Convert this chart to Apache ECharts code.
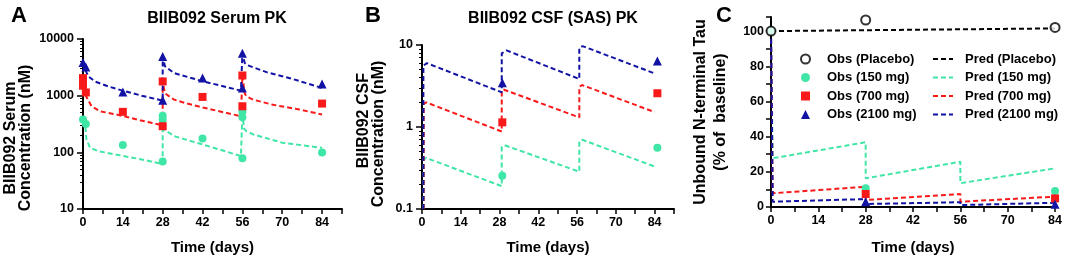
<!DOCTYPE html>
<html><head><meta charset="utf-8">
<script src="https://cdn.jsdelivr.net/npm/echarts@6/dist/echarts.min.js"></script>
<style>html,body{margin:0;padding:0;background:#fff}#c{width:1065px;height:261px}</style>
</head><body><div id="c"></div><script>
// ---------- Panel A: BIIB092 serum (nM), [day, value] ----------
const serumObs150  = [[0,380],[1,316],[14,135],[28,69],[28,380],[28,440],[42,176],[56,78.5],[56,417],[56,518],[84,99]];
const serumObs700  = [[0,2040],[0,1750],[0,1500],[1,1140],[14,518],[28,289],[28,1780],[42,950],[56,650],[56,2270],[84,725]];
const serumObs2100 = [[0,3850],[1,3200],[14,1160],[28,830],[28,4900],[42,2040],[56,1365],[56,5610],[84,1600]];
const serumPred150  = [[0,380],[0.8,300],[1.2,170],[2.5,120],[5.4,105],[11.2,92],[20.6,75],[28,62],[28,420],[28.6,250],[29.4,237],[32,193],[42,138],[55.5,86],[56,84],[56,500],[56.6,260],[57.4,237],[59.8,207],[70,148],[84,120]];
const serumPred700  = [[0,2000],[0.7,1150],[1,1000],[3,650],[6,530],[11.8,465],[20,369],[28,300],[28,1780],[28.8,1100],[29.4,1040],[32,850],[36,740],[42,620],[55.5,433],[56,430],[56,2270],[56.8,1100],[57.4,970],[59.8,850],[66.8,690],[76,570],[84,465]];
const serumPred2100 = [[0,3850],[0.5,3060],[1.9,2180],[4.2,1780],[8.9,1455],[13.6,1240],[20.6,1000],[28,817],[28,4900],[28.8,3300],[29.4,3060],[32,2500],[42,1800],[55.5,1225],[56,1220],[56,5600],[56.8,3800],[57.4,3500],[64.5,2600],[73.8,1960],[84,1365]];

// ---------- Panel B: BIIB092 CSF (nM) ----------
const csfObs150  = [[29,0.255],[85,0.56]];
const csfObs700  = [[29,1.14],[85,2.58]];
const csfObs2100 = [[29,3.47],[85,6.38]];
const csfPred150  = [[0.5,0.1],[0.5,0.4],[1.5,0.42],[28.8,0.19],[28.8,0.57],[29.8,0.6],[56.8,0.285],[56.8,0.66],[57.8,0.7],[84,0.33]];
const csfPred700  = [[0.6,0.1],[0.6,1.9],[1.5,2.0],[28.8,0.88],[28.8,2.8],[29.6,2.85],[56.8,1.31],[56.8,3.1],[57.8,3.25],[84,1.52]];
const csfPred2100 = [[0.5,0.1],[0.5,5.6],[1.8,6.0],[28.8,2.65],[28.8,7.9],[30.5,8.6],[56.8,3.85],[56.8,9.2],[58,9.7],[84,4.5]];

// ---------- Panel C: unbound N-terminal tau (% of baseline) ----------
const tauObsPlacebo = [[0,100],[28,106.3],[84,102.1]];
const tauObs150  = [[0,100],[28,10.6],[84,9.1]];
const tauObs700  = [[28,7.4],[84,4.9]];
const tauObs2100 = [[28,3.0],[84,1.5]];
const tauPredPlacebo = [[0,100],[84,101.5]];
const tauPred150  = [[0,100],[0.5,27.7],[28,36.8],[28,16.3],[56,25.7],[56,13.5],[84,22.0]];
const tauPred700  = [[0,100],[0.5,7.8],[28,11.5],[28,4.0],[56,7.4],[56,3.0],[84,5.9]];
const tauPred2100 = [[0,100],[0.5,3.0],[28,4.5],[28,1.7],[56,2.7],[56,1.1],[84,2.4]];

const obsNames  = ['Obs (Placebo)','Obs (150 mg)','Obs (700 mg)','Obs (2100 mg)'];
const predNames = ['Pred (Placebo)','Pred (150 mg)','Pred (700 mg)','Pred (2100 mg)'];
const panelTitles = ['BIIB092 Serum PK','BIIB092 CSF (SAS) PK'];
const panelLetters = ['A','B','C'];
const yNames = ['BIIB092 Serum\nConcentration (nM)','      BIIB092 CSF\nConcentration (nM)','Unbound N-terminal Tau\n(% of  baseline)'];
const xName = 'Time (days)';

const COL = {pl:'#000000', g:'#3FE6A6', r:'#F81A1A', b:'#1212A4'};
const FONT = 'Arial, "Liberation Sans", sans-serif';
const lbl = {color:'#000', fontWeight:'bold', fontSize:12.5, fontFamily:FONT};
const nameStyle = {color:'#000', fontWeight:'bold', fontSize:15, fontFamily:FONT};
const fmtNum = v => String(+(+v).toPrecision(6));
const dashIcon = 'path://M0 0H5V2H0Z M8 0H13V2H8Z M16 0H20V2H16Z';

function xAx(grid, max, gap){
  return {type:'value', gridIndex:grid, min:0, max:max, interval:7,
    axisLine:{show:true, onZero:false, lineStyle:{color:'#000', width:2}},
    axisTick:{show:true, length:5, lineStyle:{color:'#000', width:1.5}},
    axisLabel:Object.assign({}, lbl, {margin:7, formatter:v => (Math.round(v) % 14 === 0 && Math.abs(v-Math.round(v))<1e-6 ? String(Math.round(v)) : '')}),
    splitLine:{show:false},
    name:xName, nameLocation:'middle', nameGap:gap, nameTextStyle:Object.assign({}, nameStyle, {fontSize:15})};
}
function yLog(grid, min, max, name, gap, pad, margin){
  return {type:'log', logBase:10, gridIndex:grid, min:min, max:max,
    axisLine:{show:true, onZero:false, lineStyle:{color:'#000', width:2}},
    axisTick:{show:true, length:6, lineStyle:{color:'#000', width:1.5}},
    minorTick:{show:true, splitNumber:9, length:3, lineStyle:{color:'#000', width:1}},
    axisLabel:Object.assign({}, lbl, {margin:margin, formatter:fmtNum}),
    splitLine:{show:false}, minorSplitLine:{show:false},
    name:name, nameLocation:'middle', nameGap:gap, nameRotate:90,
    nameTextStyle:Object.assign({}, nameStyle, {fontSize:16, lineHeight:15, padding:pad})};
}
function sc(name, data, symbol, color, gi, size){
  return {type:'scatter', name:name, xAxisIndex:gi, yAxisIndex:gi, data:data, symbol:symbol,
    symbolSize:size||8, z:4, itemStyle:{color:color, opacity:1}, silent:true};
}
function ln(name, data, color, gi){
  return {type:'line', name:name, xAxisIndex:gi, yAxisIndex:gi, data:data, symbol:'none', z:3,
    lineStyle:{color:color, width:2, type:[5,3]}, itemStyle:{color:color}, silent:true, animation:false};
}

const option = {
  animation:false,
  backgroundColor:'#fff',
  title:[
    {text:panelLetters[0], left:6, top:0, textStyle:{fontSize:22, fontWeight:'bold', fontFamily:FONT, color:'#000'}},
    {text:panelLetters[1], left:360, top:0, textStyle:{fontSize:22, fontWeight:'bold', fontFamily:FONT, color:'#000'}},
    {text:panelLetters[2], left:711, top:0, textStyle:{fontSize:22, fontWeight:'bold', fontFamily:FONT, color:'#000'}},
    {text:panelTitles[0], left:212, top:6, textAlign:'center', textStyle:{fontSize:16, fontWeight:'bold', fontFamily:FONT, color:'#000'}},
    {text:panelTitles[1], left:548, top:6, textAlign:'center', textStyle:{fontSize:16, fontWeight:'bold', fontFamily:FONT, color:'#000'}}
  ],
  grid:[
    {left:83, top:39, width:259, height:170},
    {left:422, top:45, width:252, height:164},
    {left:771, top:17, width:286, height:190}
  ],
  xAxis:[xAx(0, 91, 31), xAx(1, 91, 31), xAx(2, 84, 33)],
  yAxis:[
    yLog(0, 10, 10000, yNames[0], 50, [0,28,0,0], 9),
    yLog(1, 0.1, 10, yNames[1], 36, [0,14,0,0], 9),
    {type:'value', gridIndex:2, min:0, max:108, interval:10,
      axisLine:{show:true, onZero:false, lineStyle:{color:'#000', width:2}},
      axisTick:{show:true, length:5, lineStyle:{color:'#000', width:1.5}},
      axisLabel:Object.assign({}, lbl, {margin:7, formatter:v => (v % 20 === 0 ? String(v) : '')}),
      splitLine:{show:false},
      name:yNames[2], nameLocation:'middle', nameGap:40, nameRotate:90,
      nameTextStyle:Object.assign({}, nameStyle, {fontSize:16, lineHeight:20})}
  ],
  legend:[
    {data:obsNames, orient:'vertical', left:800, top:52, padding:0, itemWidth:9, itemHeight:9, itemGap:4.5, selectedMode:false,
     textStyle:{color:'#000', fontWeight:'bold', fontSize:13, fontFamily:FONT, lineHeight:14, padding:[0,0,0,12]}},
    {data:predNames.map(n => ({name:n, icon:dashIcon})), orient:'vertical', left:933, top:52, padding:0, itemWidth:20, itemHeight:9, itemGap:4.5, selectedMode:false,
     textStyle:{color:'#000', fontWeight:'bold', fontSize:13, fontFamily:FONT, lineHeight:14, padding:[0,0,0,7]}}
  ],
  series:[
    // A
    ln('A Pred (150 mg)', serumPred150, COL.g, 0),
    ln('A Pred (700 mg)', serumPred700, COL.r, 0),
    ln('A Pred (2100 mg)', serumPred2100, COL.b, 0),
    sc('A Obs (150 mg)', serumObs150, 'circle', COL.g, 0, 8),
    sc('A Obs (700 mg)', serumObs700, 'rect', COL.r, 0, 8),
    sc('A Obs (2100 mg)', serumObs2100, 'triangle', COL.b, 0, 9),
    // B
    ln('B Pred (150 mg)', csfPred150, COL.g, 1),
    ln('B Pred (700 mg)', csfPred700, COL.r, 1),
    ln('B Pred (2100 mg)', csfPred2100, COL.b, 1),
    sc('B Obs (150 mg)', csfObs150, 'circle', COL.g, 1, 8),
    sc('B Obs (700 mg)', csfObs700, 'rect', COL.r, 1, 8),
    sc('B Obs (2100 mg)', csfObs2100, 'triangle', COL.b, 1, 9),
    // C
    ln(predNames[0], tauPredPlacebo, COL.pl, 2),
    ln(predNames[1], tauPred150, COL.g, 2),
    ln(predNames[2], tauPred700, COL.r, 2),
    ln(predNames[3], tauPred2100, COL.b, 2),
    sc(obsNames[1], tauObs150, 'circle', COL.g, 2, 8),
    sc(obsNames[2], tauObs700, 'rect', COL.r, 2, 8),
    sc(obsNames[3], tauObs2100, 'triangle', COL.b, 2, 9),
    Object.assign(sc(obsNames[0], tauObsPlacebo, 'emptyCircle', COL.pl, 2, 9),
      {z:5, itemStyle:{color:'#000', borderColor:'#000', borderWidth:2}})
  ]
};
echarts.init(document.getElementById('c'), null, {renderer:'canvas'}).setOption(option);
</script></body></html>
